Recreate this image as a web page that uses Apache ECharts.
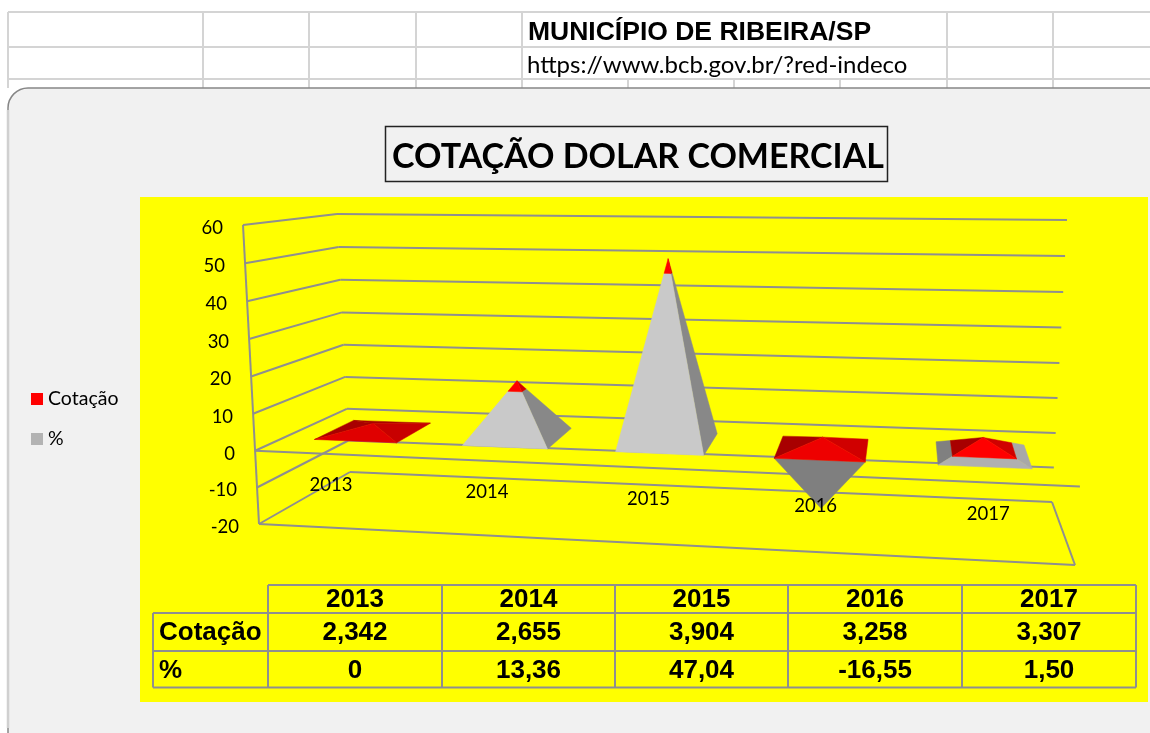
<!DOCTYPE html>
<html><head><meta charset="utf-8">
<style>html,body{margin:0;padding:0;background:#fff}#c{width:1150px;height:733px}</style>
<script src="https://cdn.jsdelivr.net/npm/echarts@6/dist/echarts.min.js"></script>
</head><body><div id="c"></div>
<script>
const categories = ['2013','2014','2015','2016','2017'];
const cotacao = [2.342, 2.655, 3.904, 3.258, 3.307];
const percent = [0, 13.36, 47.04, -16.55, 1.50];
const valueTicks = [-20,-10,0,10,20,30,40,50,60];
const cotacaoLabels = ['2,342','2,655','3,904','3,258','3,307'];
const percentLabels = ['0','13,36','47,04','-16,55','1,50'];
const sheetTitle = 'MUNICÍPIO DE RIBEIRA/SP';
const sheetUrl = 'https://www.bcb.gov.br/?red-indeco';
const chartTitle = 'COTAÇÃO DOLAR COMERCIAL';

const GRID = {left:243, top:226, width:830, height:300};
const GRID_LINE = '#8f8f8f';
// The 3D box: [x,y] of its corners, at the lowest and at the highest value.
const BOX = {
  fl:[[259,524],[243,225]], fr:[[1075,565],[1095,245]],
  bl:[[350,472],[337,214]], br:[[1052,502],[1067,220]]
};
const mix=(a,b,k)=>[a[0]+(b[0]-a[0])*k,a[1]+(b[1]-a[1])*k];
const warp=t=>0.9118*t+0.0844*t*t;        // perspective foreshortening along the category axis
function project(t,d,k){
  const tw=warp(t);
  const f=mix(mix(BOX.fl[0],BOX.fl[1],k),mix(BOX.fr[0],BOX.fr[1],k),tw);
  const b=mix(mix(BOX.bl[0],BOX.bl[1],k),mix(BOX.br[0],BOX.br[1],k),tw);
  return mix(f,b,d);
}
// Turns the library's scale output into the box's coordinates.
function place(api,cat,val){
  const p=api.coord([cat,val]);
  const k=(GRID.top+GRID.height-p[1])/GRID.height;
  return {t:(p[0]-GRID.left)/GRID.width, k:k-0.027*k*(1-k)};
}
const D0=0.30,D1=0.75,HALF=0.056;
function ring(api,cat,val,base,apex){
  const a=place(api,cat,val), s=(apex-val)/(apex-base), dc=(D0+D1)/2, dw=(D1-D0)/2;
  const x0=a.t-HALF*s,x1=a.t+HALF*s,d0=dc-dw*s,d1=dc+dw*s;
  return {fl:project(x0,d0,a.k),fr:project(x1,d0,a.k),br:project(x1,d1,a.k),bl:project(x0,d1,a.k)};
}
function area(p){let s=0;for(let i=0;i<p.length;i++){const q=p[(i+1)%p.length];s+=p[i][0]*q[1]-q[0]*p[i][1];}return s/2;}
function shades(isRed,apex){
  const flat=Math.abs(apex)<10;
  if(isRed) return {front:apex<3?'#e00000':(apex<4?'#ee0000':'#ff0000'),right:apex<3?'#c80000':'#d00000',left:'#a80000',back:'#a80000'};
  if(apex<0) return {front:'#7f7f7f',right:'#6f6f6f',left:'#6f6f6f',back:'#6f6f6f'};
  return {front:flat?'#b0b0b0':'#c9c9c9',right:flat?'#a8a8a8':'#888888',left:'#808080',back:'#808080'};
}
function slice(api,cat,v0,v1,base,apex,isRed){
  const c=shades(isRed,apex), lo=ring(api,cat,v0,base,apex), hi=ring(api,cat,v1,base,apex);
  const faces=[[lo.bl,lo.br,hi.br,hi.bl,'back'],[lo.fl,lo.bl,hi.bl,hi.fl,'left'],[lo.br,lo.fr,hi.fr,hi.br,'right'],[lo.fr,lo.fl,hi.fl,hi.fr,'front']];
  const ch=[];
  faces.forEach(f=>{
    const pts=f.slice(0,4), sign=apex>=0?1:-1;
    if(area(pts)*sign<=0) return;  // turned away from the viewer
    ch.push({type:'polygon',shape:{points:pts},style:{fill:c[f[4]],stroke:c[f[4]],lineWidth:0.5}});
  });
  return {type:'group',children:ch};
}
const percentData=categories.map((c,i)=>[i,percent[i],cotacao[i]]);
const cotacaoData=categories.map((c,i)=>[i,cotacao[i],percent[i]]);
function renderPercent(params,api){
  const i=api.value(0),p=api.value(1),q=api.value(2);
  if(p===0) return {type:'group',children:[]};
  return slice(api,i,0,p,0,p>0?p+q:p,false);
}
function renderCotacao(params,api){
  const i=api.value(0),q=api.value(1),p=api.value(2);
  const from=p>0?p:0;
  return slice(api,i,from,from+q,0,from+q,true);
}
function renderFrame(params,api){
  const v=api.value(0);
  const k=place(api,0,v).k;
  const line=(a,b)=>({type:'line',shape:{x1:a[0],y1:a[1],x2:b[0],y2:b[1]},style:{stroke:GRID_LINE,lineWidth:2}});
  const fl=mix(BOX.fl[0],BOX.fl[1],k),bl=mix(BOX.bl[0],BOX.bl[1],k),br=mix(BOX.br[0],BOX.br[1],k),fr=mix(BOX.fr[0],BOX.fr[1],k);
  const ch=[line(fl,bl),line(bl,br)];
  if(v===0) ch.push(line(fl,fr));
  if(v===valueTicks[0]){ch.push(line(fl,fr),line(fr,br),line(fl,mix(BOX.fl[0],BOX.fl[1],1)));}
  ch.push({type:'text',style:{text:String(v),x:fl[0]-20,y:fl[1]+3,align:'right',verticalAlign:'middle',font:'18.5px Lato',fill:'#000'}});
  return {type:'group',children:ch};
}
function renderCatLabels(params,api){
  const i=api.value(0), zeroK=place(api,0,0).k, a=place(api,i,0);
  const p=project(a.t,0,zeroK);
  return {type:'text',style:{text:categories[i],x:p[0],y:p[1]+31,align:'center',verticalAlign:'middle',font:'18.5px Lato',fill:'#000'}};
}

// Sheet, panel and table: plain graphic elements.
const sheetCols=[8,203,309,416,522,947,1053], sheetRows=[12,47,79];
const tableCols=[268,442,615,788,962,1136], tableRows=[585,613,651,687.5];
const g=[];
const gl=(x1,y1,x2,y2,stroke,w,z)=>g.push({type:'line',z:z,silent:true,shape:{x1,y1,x2,y2},style:{stroke,lineWidth:w}});
const gt=(text,x,y,font,align)=>g.push({type:'text',z:3,silent:true,style:{text,x,y,font,align:align||'center',verticalAlign:'middle',fill:'#000'}});
sheetRows.forEach(y=>gl(8,y,1150,y,'#d4d4d4',2,0));
sheetCols.forEach(x=>gl(x,12,x,88,'#d4d4d4',2,0));
[628,734,840].forEach(x=>gl(x,79,x,88,'#d4d4d4',2,0));
g.push({type:'rect',z:1,silent:true,shape:{x:8,y:88,width:1170,height:680,r:20},style:{fill:'#f1f1f1',stroke:'#868686',lineWidth:1.5}});
gl(8,110,8,728,'#d0d0d0',2.5,1);
g.push({type:'rect',z:1,silent:true,shape:{x:140,y:197,width:1008,height:505},style:{fill:'#ffff00'}});
g.push({type:'rect',z:1,silent:true,shape:{x:385.5,y:126.5,width:502,height:55},style:{fill:'none',stroke:'#222',lineWidth:1.5}});
gt(sheetTitle,528,32.5,'bold 26.5px "Liberation Sans"','left');
gt(sheetUrl,527,65,'24px Lato','left');
// Table
tableRows.forEach((y,r)=>gl(r===0?tableCols[0]:153,y,tableCols[5],y,GRID_LINE,2,2));
tableCols.forEach(x=>gl(x,585,x,687.5,GRID_LINE,2,2));
gl(153,613,153,687.5,GRID_LINE,2,2);
const tf='bold 26px "Liberation Sans"';
categories.forEach((c,i)=>{
  const cx=(tableCols[i]+tableCols[i+1])/2;
  gt(c,cx,599.5,tf);gt(cotacaoLabels[i],cx,632.5,tf);gt(percentLabels[i],cx,670.5,tf);
});
gt('Cotação',159,632.5,tf,'left');gt('%',159,670.5,tf,'left');

const chart=echarts.init(document.getElementById('c'));
chart.setOption({
  animation:false,
  backgroundColor:'#ffffff',
  title:{text:chartTitle,left:633,top:152,textAlign:'center',textVerticalAlign:'middle',z:3,
    textStyle:{fontFamily:'Lato',fontWeight:'bold',fontSize:34,color:'#000'}},
  legend:{orient:'vertical',left:31,top:389,padding:0,itemWidth:12,itemHeight:12,itemGap:20,icon:'rect',z:3,
    data:['Cotação','%'],textStyle:{fontFamily:'Lato',fontSize:19.5,color:'#000'}},
  grid:GRID,
  xAxis:{type:'category',data:categories,show:false},
  yAxis:{type:'value',min:-20,max:60,interval:10,show:false},
  graphic:{elements:g},
  series:[
    {name:'frame',type:'custom',z:2,data:valueTicks.map(v=>[v]),renderItem:renderFrame,encode:{y:0},silent:true},
    {name:'%',type:'custom',z:3,data:percentData,renderItem:renderPercent,itemStyle:{color:'#b3b3b3'},encode:{x:0,y:1},silent:true},
    {name:'Cotação',type:'custom',z:4,data:cotacaoData,renderItem:renderCotacao,itemStyle:{color:'#ff0000'},encode:{x:0,y:1},silent:true},
    {name:'labels',type:'custom',z:5,data:categories.map((c,i)=>[i]),renderItem:renderCatLabels,encode:{x:0},silent:true}
  ]
});
</script></body></html>
